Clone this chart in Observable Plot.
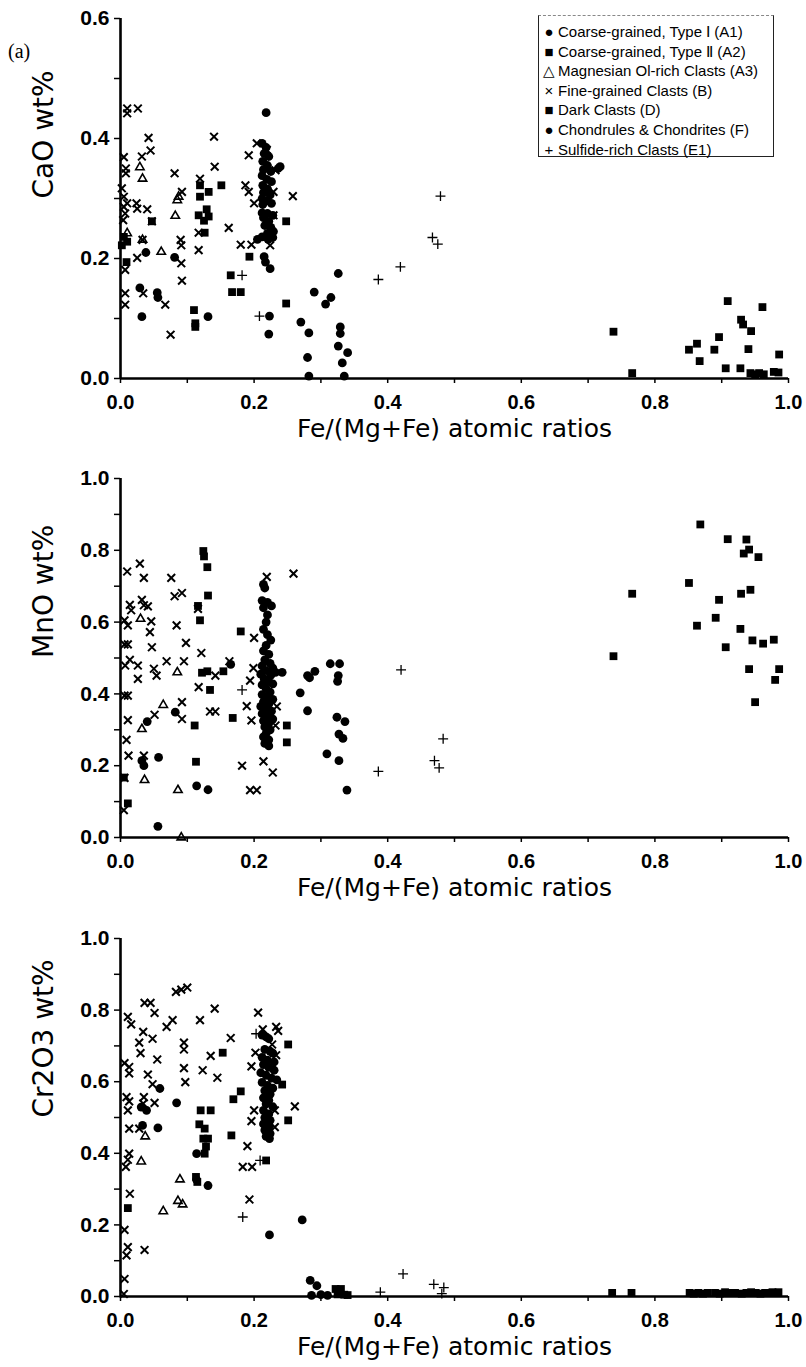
<!DOCTYPE html>
<html><head><meta charset="utf-8">
<script src="https://cdn.jsdelivr.net/npm/d3@7"></script>
<script src="https://cdn.jsdelivr.net/npm/@observablehq/plot@0.6"></script>
<style>
body{margin:0;background:#fff}
#wrap{position:relative;width:806px;height:1367px;background:#fff}
#wrap svg{display:block}
.legend{position:absolute;left:538px;top:15px;width:236px;height:142px;border:1px solid #222;border-top:1px dashed #888;box-sizing:border-box;font:15px "Liberation Sans",Arial,sans-serif;padding:6px 0 0 4px;line-height:19.6px;background:#fff;color:#000;white-space:nowrap}
.legend .m{display:inline-block;width:12px;text-align:center;margin-right:3px}
.tag{position:absolute;left:8px;top:40px;font:20px "Liberation Serif",serif;color:#000}
</style>
</head><body>
<div id="wrap"><div class="tag">(a)</div></div>
<script>
// ---------- tick values ----------
const xTicksMinor = [0,0.1,0.2,0.3,0.4,0.5,0.6,0.7,0.8,0.9,1.0];
const xTicksLabel = [0,0.2,0.4,0.6,0.8,1.0];
const yTicksMinorCaO = [0,0.1,0.2,0.3,0.4,0.5,0.6];
const yTicksLabelCaO = [0,0.2,0.4,0.6];
const yTicksMinor = [0,0.1,0.2,0.3,0.4,0.5,0.6,0.7,0.8,0.9,1.0];
const yTicksLabel = [0,0.2,0.4,0.6,0.8,1.0];
const xLabel = "Fe/(Mg+Fe) atomic ratios";
const yLabels = ["CaO wt%", "MnO wt%", "Cr2O3 wt%"];
const legendMarks = ["●","■","△","×","■","●","+"];
const legendLabels = ["Coarse-grained, Type Ⅰ (A1)","Coarse-grained, Type Ⅱ (A2)","Magnesian Ol-rich Clasts (A3)","Fine-grained Clasts (B)","Dark Clasts (D)","Chondrules & Chondrites (F)","Sulfide-rich Clasts (E1)"];

// ---------- CaO panel ----------
const caoA1 = [[0.081,0.202],[0.038,0.21],[0.029,0.151],[0.055,0.143],[0.056,0.135],[0.032,0.103],[0.131,0.103],[0.218,0.443],
 [0.212,0.392],[0.218,0.385],[0.215,0.375],[0.222,0.37],[0.213,0.362],[0.22,0.355],[0.214,0.348],[0.225,0.345],[0.212,0.338],[0.219,0.332],[0.226,0.328],[0.213,0.322],[0.22,0.316],[0.214,0.31],[0.224,0.306],[0.212,0.3],[0.219,0.296],[0.226,0.292],[0.213,0.29],[0.239,0.353],[0.236,0.35],
 [0.212,0.276],[0.22,0.275],[0.228,0.272],[0.214,0.268],[0.222,0.262],[0.216,0.255],[0.225,0.252],[0.229,0.245],[0.22,0.242],[0.212,0.236],[0.221,0.232],[0.228,0.235],[0.205,0.232],
 [0.215,0.203],[0.217,0.194],[0.224,0.183],[0.223,0.104],[0.222,0.074]];
const caoA2 = [[0.119,0.322],[0.132,0.311],[0.119,0.303],[0.129,0.282],[0.117,0.272],[0.132,0.27],[0.125,0.263],[0.126,0.243],[0.151,0.322],[0.193,0.203],[0.165,0.172],[0.167,0.144],[0.18,0.144],[0.248,0.125],[0.11,0.114],[0.112,0.092],[0.112,0.086],[0.248,0.262],[0.009,0.194],[0.005,0.236],[0.01,0.228],[0.002,0.222],[0.047,0.262]];
const caoA3 = [[0.029,0.352],[0.033,0.333],[0.082,0.271],[0.085,0.297],[0.087,0.303],[0.061,0.211],[0.033,0.231],[0.01,0.242]];
const caoB = [[0.01,0.45],[0.01,0.442],[0.026,0.45],[0.042,0.401],[0.045,0.38],[0.032,0.37],[0.005,0.369],[0.008,0.35],[0.008,0.342],[0.081,0.342],[0.14,0.403],[0.141,0.353],[0.119,0.333],[0.117,0.243],[0.117,0.214],[0.162,0.251],[0.18,0.223],[0.196,0.223],[0.092,0.311],[0.09,0.231],[0.091,0.222],[0.091,0.192],[0.092,0.163],[0.075,0.073],[0.067,0.123],[0.025,0.201],[0.007,0.181],[0.034,0.142],[0.007,0.142],[0.007,0.123],[0.002,0.317],[0.005,0.303],[0.005,0.286],[0.007,0.275],[0.004,0.264],[0.01,0.292],[0.024,0.292],[0.025,0.283],[0.04,0.282],[0.047,0.262],[0.033,0.231],[0.258,0.304],[0.192,0.372],[0.204,0.392],[0.219,0.381],[0.232,0.347],[0.229,0.311],[0.229,0.272],[0.187,0.322],[0.192,0.311],[0.2,0.292],[0.224,0.222]];
const caoD = [[0.738,0.078],[0.766,0.009],[0.851,0.048],[0.863,0.058],[0.867,0.029],[0.889,0.048],[0.896,0.069],[0.909,0.129],[0.929,0.098],[0.932,0.09],[0.944,0.079],[0.94,0.049],[0.961,0.119],[0.986,0.04],[0.906,0.017],[0.928,0.017],[0.943,0.009],[0.95,0.007],[0.956,0.009],[0.963,0.007],[0.978,0.011],[0.985,0.01]];
const caoF = [[0.326,0.175],[0.29,0.144],[0.315,0.135],[0.307,0.124],[0.27,0.094],[0.282,0.076],[0.329,0.086],[0.329,0.075],[0.326,0.054],[0.34,0.043],[0.28,0.035],[0.332,0.026],[0.282,0.004],[0.335,0.004]];
const caoE1 = [[0.182,0.172],[0.208,0.104],[0.479,0.304],[0.467,0.235],[0.475,0.224],[0.419,0.186],[0.386,0.165]];

// ---------- MnO panel ----------
const mnoA1 = [[0.04,0.323],[0.082,0.349],[0.032,0.214],[0.035,0.2],[0.057,0.223],[0.056,0.031],[0.114,0.144],[0.131,0.133],[0.242,0.46],[0.165,0.482],
 [0.214,0.705],[0.216,0.695],[0.212,0.66],[0.22,0.655],[0.226,0.645],[0.214,0.64],[0.22,0.62],[0.218,0.6],[0.214,0.58],[0.22,0.565],[0.225,0.55],[0.218,0.535],[0.214,0.52],[0.222,0.51],[0.216,0.495],[0.224,0.485],[0.212,0.478],[0.228,0.472],[0.218,0.465],[0.21,0.455],[0.225,0.452],[0.232,0.46],[0.215,0.442],[0.222,0.435],[0.212,0.425],[0.228,0.428],[0.218,0.415],[0.224,0.405],[0.212,0.398],[0.22,0.39],[0.228,0.385],[0.214,0.378],[0.222,0.372],[0.21,0.365],[0.218,0.358],[0.226,0.352],[0.212,0.345],[0.22,0.338],[0.228,0.33],[0.214,0.325],[0.222,0.318],[0.216,0.308],[0.224,0.3],[0.218,0.29],[0.214,0.28],[0.222,0.272],[0.216,0.262],[0.222,0.255]];
const mnoA2 = [[0.124,0.798],[0.125,0.783],[0.13,0.753],[0.131,0.674],[0.116,0.645],[0.119,0.605],[0.18,0.574],[0.122,0.459],[0.13,0.463],[0.134,0.411],[0.154,0.463],[0.168,0.333],[0.111,0.312],[0.113,0.211],[0.011,0.095],[0.005,0.167],[0.249,0.312],[0.249,0.265]];
const mnoA3 = [[0.03,0.609],[0.085,0.46],[0.064,0.369],[0.032,0.302],[0.036,0.16],[0.086,0.132],[0.091,0.0]];
const mnoB = [[0.01,0.741],[0.029,0.763],[0.035,0.723],[0.076,0.723],[0.081,0.672],[0.092,0.681],[0.014,0.648],[0.016,0.633],[0.032,0.662],[0.035,0.647],[0.041,0.644],[0.006,0.605],[0.011,0.591],[0.046,0.602],[0.044,0.572],[0.047,0.53],[0.084,0.591],[0.098,0.542],[0.121,0.514],[0.116,0.637],[0.006,0.538],[0.011,0.538],[0.014,0.495],[0.007,0.479],[0.026,0.479],[0.026,0.442],[0.05,0.47],[0.054,0.451],[0.069,0.491],[0.095,0.491],[0.142,0.451],[0.117,0.419],[0.006,0.395],[0.011,0.395],[0.011,0.327],[0.009,0.272],[0.012,0.228],[0.035,0.228],[0.006,0.166],[0.005,0.076],[0.051,0.342],[0.092,0.377],[0.092,0.33],[0.134,0.351],[0.142,0.351],[0.182,0.2],[0.194,0.132],[0.204,0.132],[0.214,0.212],[0.228,0.181],[0.219,0.726],[0.259,0.735],[0.2,0.556],[0.199,0.472],[0.194,0.437],[0.189,0.366],[0.196,0.326],[0.234,0.365],[0.232,0.312],[0.163,0.491]];
const mnoD = [[0.868,0.872],[0.909,0.831],[0.937,0.83],[0.933,0.791],[0.941,0.802],[0.955,0.781],[0.851,0.709],[0.766,0.679],[0.929,0.679],[0.943,0.69],[0.896,0.662],[0.891,0.612],[0.863,0.59],[0.928,0.581],[0.906,0.53],[0.946,0.549],[0.962,0.54],[0.978,0.551],[0.738,0.505],[0.941,0.469],[0.986,0.469],[0.98,0.439],[0.95,0.377]];
const mnoF = [[0.269,0.403],[0.28,0.451],[0.283,0.445],[0.291,0.463],[0.28,0.353],[0.314,0.484],[0.328,0.484],[0.326,0.451],[0.325,0.435],[0.324,0.335],[0.336,0.323],[0.327,0.288],[0.333,0.276],[0.309,0.233],[0.327,0.214],[0.339,0.132]];
const mnoE1 = [[0.182,0.411],[0.42,0.467],[0.483,0.275],[0.47,0.214],[0.477,0.194],[0.386,0.184]];

// ---------- Cr2O3 panel ----------
const crA1 = [[0.059,0.581],[0.084,0.541],[0.031,0.529],[0.039,0.52],[0.033,0.478],[0.056,0.471],[0.114,0.399],[0.114,0.326],[0.131,0.31],[0.223,0.172],[0.223,0.441],[0.212,0.73],
 [0.218,0.725],[0.222,0.72],[0.216,0.69],[0.224,0.685],[0.228,0.68],[0.212,0.668],[0.22,0.66],[0.23,0.655],[0.214,0.648],[0.222,0.64],[0.23,0.632],[0.21,0.625],[0.218,0.618],[0.226,0.61],[0.234,0.605],[0.212,0.598],[0.22,0.59],[0.228,0.582],[0.216,0.575],[0.224,0.565],[0.214,0.555],[0.222,0.548],[0.218,0.538],[0.228,0.53],[0.214,0.52],[0.222,0.51],[0.216,0.5],[0.224,0.492],[0.214,0.482],[0.222,0.474],[0.216,0.465],[0.224,0.455],[0.218,0.447]];
const crA2 = [[0.153,0.681],[0.18,0.573],[0.169,0.551],[0.12,0.52],[0.135,0.52],[0.118,0.481],[0.126,0.469],[0.124,0.441],[0.131,0.441],[0.128,0.419],[0.126,0.399],[0.166,0.45],[0.113,0.334],[0.115,0.32],[0.251,0.704],[0.242,0.592],[0.251,0.492],[0.218,0.38],[0.011,0.247],[0.322,0.021],[0.33,0.021],[0.325,0.006],[0.335,0.005],[0.34,0.004]];
const crA3 = [[0.037,0.447],[0.031,0.377],[0.089,0.327],[0.086,0.267],[0.093,0.257],[0.064,0.238]];
const crB = [[0.083,0.851],[0.091,0.857],[0.1,0.863],[0.036,0.82],[0.045,0.82],[0.051,0.792],[0.011,0.781],[0.016,0.76],[0.034,0.739],[0.028,0.709],[0.03,0.68],[0.048,0.72],[0.078,0.772],[0.069,0.753],[0.119,0.772],[0.141,0.804],[0.095,0.709],[0.095,0.69],[0.135,0.672],[0.165,0.722],[0.206,0.793],[0.095,0.638],[0.097,0.599],[0.123,0.632],[0.145,0.611],[0.041,0.62],[0.055,0.662],[0.048,0.593],[0.006,0.652],[0.013,0.641],[0.013,0.623],[0.009,0.557],[0.013,0.545],[0.011,0.52],[0.013,0.469],[0.028,0.469],[0.035,0.557],[0.034,0.539],[0.051,0.541],[0.013,0.399],[0.011,0.382],[0.008,0.362],[0.014,0.287],[0.006,0.186],[0.011,0.138],[0.009,0.115],[0.036,0.13],[0.006,0.049],[0.005,0.007],[0.202,0.681],[0.196,0.643],[0.213,0.746],[0.233,0.753],[0.236,0.742],[0.227,0.704],[0.233,0.674],[0.2,0.52],[0.196,0.49],[0.231,0.52],[0.231,0.473],[0.261,0.531],[0.19,0.42],[0.183,0.362],[0.197,0.362],[0.193,0.271]];
const crD = [[0.736,0.01],[0.765,0.01],[0.852,0.01],[0.858,0.008],[0.865,0.01],[0.872,0.008],[0.879,0.01],[0.89,0.01],[0.897,0.008],[0.905,0.012],[0.912,0.01],[0.92,0.01],[0.93,0.008],[0.937,0.01],[0.944,0.012],[0.951,0.01],[0.958,0.008],[0.965,0.01],[0.976,0.012],[0.985,0.012]];
const crF = [[0.272,0.214],[0.284,0.045],[0.294,0.03],[0.286,0.003],[0.31,0.003],[0.3,0.005]];
const crE1 = [[0.203,0.734],[0.183,0.222],[0.209,0.38],[0.389,0.012],[0.423,0.063],[0.469,0.034],[0.484,0.025],[0.481,0.008]];

// ---------- drawing ----------
const styles = {
  circle: {symbol:"circle", fill:"#000", stroke:"none", r:4.4},
  square: {symbol:"square", fill:"#000", stroke:"none", r:4.4},
  triangle: {symbol:"triangle2", fill:"none", stroke:"#000", strokeWidth:1.6, r:4},
  times: {symbol:"times", fill:"none", stroke:"#000", strokeWidth:2, r:3.6},
  plus: {symbol:"plus", fill:"none", stroke:"#000", strokeWidth:1.3, r:3.3}
};
function dots(data, kind) {
  return Plot.dot(data, {x: d => d[0], y: d => d[1], ...styles[kind]});
}
function panel(opts) {
  const {height, marginTop, marginBottom, yMax, yMinor, yLab, ylabel, series} = opts;
  return Plot.plot({
    width: 806, height, marginLeft: 120, marginRight: 18, marginTop, marginBottom,
    x: {domain: [0, 1]},
    y: {domain: [0, yMax]},
    style: {fontFamily: "'Liberation Sans', Arial, sans-serif", color: "#000", background: "#fff", fontSize: "20px", fontWeight: "bold"},
    marks: [
      Plot.axisX(xTicksMinor, {tickSize: 5, strokeWidth: 1.5, tickFormat: () => "", label: null}),
      Plot.axisX(xTicksLabel, {tickSize: 0, tickPadding: 16, tickFormat: d3.format(".1f"), label: null}),
      Plot.axisY(yMinor, {tickSize: 6, strokeWidth: 1.5, tickFormat: () => "", label: null}),
      Plot.axisY(yLab, {tickSize: 0, tickPadding: 11, tickFormat: d3.format(".1f"), label: null, fontSize: 21}),
      Plot.ruleY([0], {strokeWidth: 2.6}),
      Plot.ruleX([0], {strokeWidth: 2.6}),
      dots(series.B, "times"),
      dots(series.A3, "triangle"),
      dots(series.E1, "plus"),
      dots(series.A2, "square"),
      dots(series.D, "square"),
      dots(series.A1, "circle"),
      dots(series.F, "circle"),
      Plot.text([ylabel], {frameAnchor: "left", dx: -76, rotate: -90, fontSize: 28, fontWeight: "normal", fontFamily: "'DejaVu Sans', sans-serif"}),
      Plot.text([xLabel], {frameAnchor: "bottom", dy: 58, fontSize: 25, fontWeight: "normal", fontFamily: "'DejaVu Sans', sans-serif"})
    ]
  });
}
const wrap = document.getElementById("wrap");
wrap.appendChild(panel({height: 460, marginTop: 18, marginBottom: 82, yMax: 0.6, yMinor: yTicksMinorCaO, yLab: yTicksLabelCaO, ylabel: yLabels[0],
  series: {A1: caoA1, A2: caoA2, A3: caoA3, B: caoB, D: caoD, F: caoF, E1: caoE1}}));
wrap.appendChild(panel({height: 460, marginTop: 18, marginBottom: 83, yMax: 1.0, yMinor: yTicksMinor, yLab: yTicksLabel, ylabel: yLabels[1],
  series: {A1: mnoA1, A2: mnoA2, A3: mnoA3, B: mnoB, D: mnoD, F: mnoF, E1: mnoE1}}));
wrap.appendChild(panel({height: 447, marginTop: 18, marginBottom: 71, yMax: 1.0, yMinor: yTicksMinor, yLab: yTicksLabel, ylabel: yLabels[2],
  series: {A1: crA1, A2: crA2, A3: crA3, B: crB, D: crD, F: crF, E1: crE1}}));

const leg = document.createElement("div");
leg.className = "legend";
legendLabels.forEach((t, i) => {
  const row = document.createElement("div");
  const m = document.createElement("span"); m.className = "m"; m.textContent = legendMarks[i];
  row.appendChild(m); row.appendChild(document.createTextNode(t));
  leg.appendChild(row);
});
wrap.appendChild(leg);
</script>
</body></html>
